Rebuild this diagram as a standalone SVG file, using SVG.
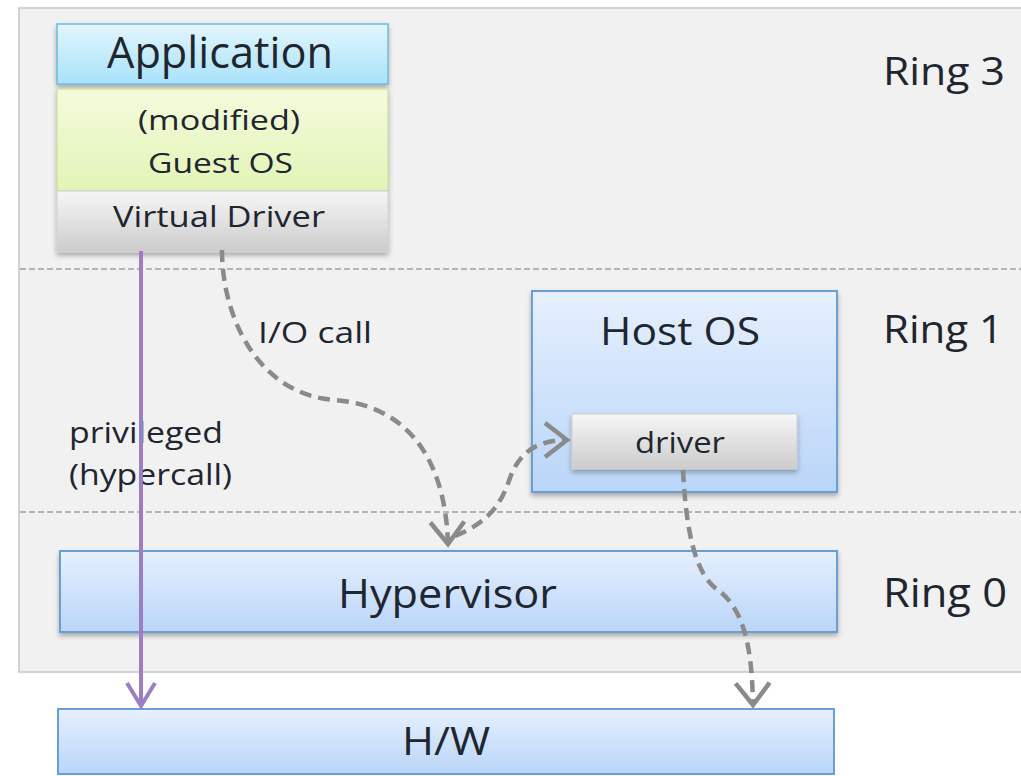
<svg xmlns="http://www.w3.org/2000/svg" width="1021" height="776" viewBox="0 0 1021 776">
<style>
text{font-family:"Open Sans","Liberation Sans",sans-serif;fill:#1f2630}
.sep{stroke:#b4b4b4;stroke-width:2;stroke-dasharray:6 3;fill:none}
.dash{fill:none;stroke:#8a8a8a;stroke-width:4.5;stroke-dasharray:12 7}
.blue{fill:url(#gBlue);stroke:#6a9fd6;stroke-width:2}
.grey{fill:url(#gGrey);stroke:#d0d0d0;stroke-width:1}
</style>
<defs>
<linearGradient id="gBlue" x1="0" y1="0" x2="0" y2="1"><stop offset="0" stop-color="#e6f0fe"/><stop offset="1" stop-color="#b9d5f8"/></linearGradient>
<linearGradient id="gCyan" x1="0" y1="0" x2="0" y2="1"><stop offset="0" stop-color="#e2f6fe"/><stop offset="1" stop-color="#a9e2fa"/></linearGradient>
<linearGradient id="gGreen" x1="0" y1="0" x2="0" y2="1"><stop offset="0" stop-color="#f4fbdc"/><stop offset="1" stop-color="#e2f4b6"/></linearGradient>
<linearGradient id="gGrey" x1="0" y1="0" x2="0" y2="1"><stop offset="0" stop-color="#f6f6f6"/><stop offset="1" stop-color="#cccccc"/></linearGradient>
<filter id="sh" x="-10%" y="-20%" width="120%" height="150%"><feDropShadow dx="0" dy="3" stdDeviation="2.5" flood-color="#000" flood-opacity="0.3"/></filter>
<marker id="arrG" markerUnits="userSpaceOnUse" markerWidth="44" markerHeight="44" viewBox="-28 -22 32 44" refX="0" refY="0" orient="auto"><path d="M-22,-17 L0,0 L-22,17" fill="none" stroke="#8a8a8a" stroke-width="4.5"/></marker>
<marker id="arrP" markerUnits="userSpaceOnUse" markerWidth="40" markerHeight="40" viewBox="-28 -20 32 40" refX="0" refY="0" orient="auto"><path d="M-23,-14 L0,0 L-23,14" fill="none" stroke="#9b7fc2" stroke-width="4"/></marker>
</defs>
<rect x="0" y="0" width="1021" height="776" fill="#ffffff"/>
<g id="panel">
<rect x="19" y="8" width="1012" height="664" fill="#f1f1f1" stroke="#c6c6c6" stroke-width="1.5"/>
<line class="sep" x1="20" y1="269" x2="1021" y2="269"/>
<line class="sep" x1="20" y1="512" x2="1021" y2="512"/>
</g>
<g id="rings">
<text x="883" y="85" font-size="39" textLength="122" lengthAdjust="spacingAndGlyphs">Ring 3</text>
<text x="883" y="343" font-size="39" textLength="120" lengthAdjust="spacingAndGlyphs">Ring 1</text>
<text x="883" y="607" font-size="40" textLength="124" lengthAdjust="spacingAndGlyphs">Ring 0</text>
</g>
<g id="guest" filter="url(#sh)">
<rect x="57" y="24" width="331" height="60" fill="url(#gCyan)" stroke="#6cbadb" stroke-width="1.5"/>
<rect x="57" y="89" width="331" height="102" fill="url(#gGreen)" stroke="#c3d98e" stroke-width="1"/>
<rect x="57" y="191" width="331" height="61" class="grey"/>
</g>
<g id="application">
<text x="107" y="68" font-size="44" textLength="226" lengthAdjust="spacingAndGlyphs">Application</text>
</g>
<g id="guest-os">
<text x="138" y="130" font-size="27" textLength="162" lengthAdjust="spacingAndGlyphs">(modified)</text>
<text x="148" y="173" font-size="27" textLength="145" lengthAdjust="spacingAndGlyphs">Guest OS</text>
</g>
<g id="virtual-driver">
<text x="113" y="227" font-size="29" textLength="212" lengthAdjust="spacingAndGlyphs">Virtual Driver</text>
</g>
<g id="host-os">
<rect x="532" y="291" width="305" height="201" class="blue" filter="url(#sh)"/>
<text x="600" y="345" font-size="39" textLength="160" lengthAdjust="spacingAndGlyphs">Host OS</text>
</g>
<g id="driver">
<rect x="572" y="414" width="225" height="55" class="grey" filter="url(#sh)"/>
<text x="635" y="453" font-size="30" textLength="90" lengthAdjust="spacingAndGlyphs">driver</text>
</g>
<g id="hypervisor">
<rect x="60" y="551" width="777" height="81" class="blue" filter="url(#sh)"/>
<text x="338" y="608" font-size="40" textLength="219" lengthAdjust="spacingAndGlyphs">Hypervisor</text>
</g>
<g id="hw">
<rect x="58" y="709" width="776" height="65" class="blue"/>
<text x="402" y="755" font-size="39" textLength="88" lengthAdjust="spacingAndGlyphs">H/W</text>
</g>
<g id="labels">
<text x="258" y="343" font-size="30" textLength="114" lengthAdjust="spacingAndGlyphs">I/O call</text>
<text x="69" y="443" font-size="29" textLength="154" lengthAdjust="spacingAndGlyphs">privileged</text>
<text x="69" y="485" font-size="29" textLength="163" lengthAdjust="spacingAndGlyphs">(hypercall)</text>
</g>
<g id="connectors">
<path class="dash" d="M222,250 C222,320 260,395 335,400 C400,405 445,450 448,544" marker-end="url(#arrG)"/>
<path class="dash" d="M455,536 C490,522 502,502 510,478 C520,450 540,440 567,440" marker-end="url(#arrG)"/>
<path class="dash" d="M683,470 C686,530 695,575 718,590 C745,610 752,650 753,705" marker-end="url(#arrG)"/>
<path d="M141,251 L141,706" fill="none" stroke="#9b7fc2" stroke-width="4" marker-end="url(#arrP)"/>
</g>
</svg>
